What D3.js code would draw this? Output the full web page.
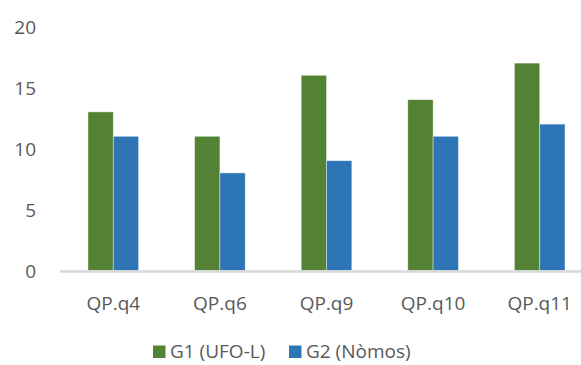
<!DOCTYPE html>
<html><head><meta charset="utf-8">
<script src="https://cdn.jsdelivr.net/npm/d3@7"></script>
<style>body{margin:0;background:#fff}svg{display:block}</style>
</head><body>
<script>
const categories = ["QP.q4", "QP.q6", "QP.q9", "QP.q10", "QP.q11"];
const seriesNames = ["G1 (UFO-L)", "G2 (Nòmos)"];
const g1Values = [13, 11, 16, 14, 17];
const g2Values = [11, 8, 9, 11, 12];
const yTicks = [0, 5, 10, 15, 20];
const colors = ["#548235", "#2E75B6"];

const W = 581, H = 365;
const svg = d3.select("body").append("svg").attr("width", W).attr("height", H);
const font = "'Open Sans', 'Liberation Sans', sans-serif";
const fs = 19;

const x = d3.scaleBand().domain(categories).range([60, 593]).paddingInner(0.525).paddingOuter(0.2625);
const x1 = d3.scaleBand().domain(seriesNames).range([0, x.bandwidth()]);
const y = d3.scaleLinear().domain([0, 20]).range([270.5, 26.5]);

const data = categories.map((c, i) => ({c, vals: [g1Values[i], g2Values[i]]}));

const groups = svg.selectAll("g.grp").data(data).enter().append("g")
  .attr("transform", d => `translate(${x(d.c)},0)`);
groups.selectAll("rect").data(d => d.vals.map((v, k) => ({v, k}))).enter().append("rect")
  .attr("x", d => x1(seriesNames[d.k]))
  .attr("y", d => y(d.v))
  .attr("width", x1.bandwidth())
  .attr("height", d => y(0) - y(d.v))
  .attr("fill", d => colors[d.k])
  .attr("stroke", "#ffffff").attr("stroke-opacity", 0.5).attr("stroke-width", 0.8);

// x axis line
svg.append("line").attr("x1", 60).attr("x2", 593).attr("y1", y(0) + 1).attr("y2", y(0) + 1)
  .attr("stroke", "#d9d9d9").attr("stroke-width", 2.5);

// y axis labels
const yAxis = d3.axisLeft(y).tickValues(yTicks).tickSize(0).tickPadding(0);
const ya = svg.append("g").attr("transform", "translate(36,0)").call(yAxis);
ya.select(".domain").remove();
ya.selectAll("text").attr("font-family", font).attr("font-size", fs).attr("fill", "#595959").attr("dy", "0.35em");

// x axis labels
const xAxis = d3.axisBottom(x).tickSize(0).tickPadding(0);
const xa = svg.append("g").attr("transform", "translate(0,290)").call(xAxis);
xa.select(".domain").remove();
xa.selectAll("text").attr("font-family", font).attr("font-size", fs).attr("fill", "#595959").attr("dy", "0.35em").attr("y", 13);

// legend
const legX = [153, 289];
const leg = svg.selectAll("g.leg").data(seriesNames).enter().append("g")
  .attr("transform", (d, i) => `translate(${legX[i]},345.5)`);
leg.append("rect").attr("width", 12.5).attr("height", 12.5).attr("fill", (d, i) => colors[i]);
leg.append("text").attr("x", 17).attr("y", 6).attr("dy", "0.35em")
  .attr("font-family", font).attr("font-size", fs).attr("fill", "#595959").text(d => d);
</script>
</body></html>
